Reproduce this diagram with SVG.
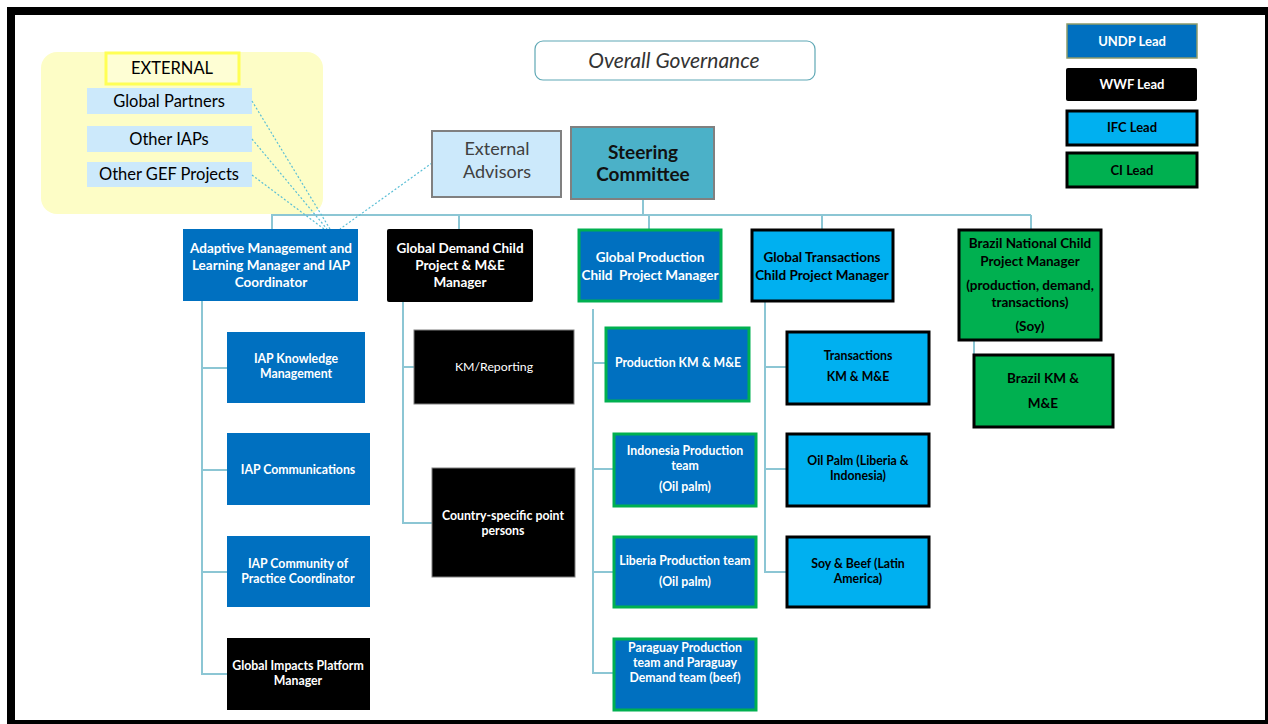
<svg xmlns="http://www.w3.org/2000/svg" width="1268" height="724" viewBox="0 0 1268 724">
<style>
text{font-family:Lato,"Liberation Sans",sans-serif;text-anchor:middle}
.w{fill:#ffffff;font-weight:bold;font-size:12.3px}
.k{fill:#000000;font-weight:bold;font-size:12.3px}
.hw{fill:#ffffff;font-weight:bold;font-size:13.5px}
.hk{fill:#000000;font-weight:bold;font-size:13.5px}
.undp{fill:#0070C0}
.wwf{fill:#000000;stroke:#7f7f7f;stroke-width:1}
.ifc{fill:#00B0F0;stroke:#000000;stroke-width:3}
.ci{fill:#00B050;stroke:#000000;stroke-width:3}
.prod{fill:#0070C0;stroke:#00B050;stroke-width:3}
.ext{fill:#CCE9FB}
.et{fill:#000000;font-size:16.5px}
.lg{font-weight:bold;font-size:13px}
.conn line,.conn polyline{stroke:#8CC6D4;stroke-width:2;fill:none}
.conn .dot{stroke:#5BBFD6;stroke-width:1.2;stroke-dasharray:2 2}
</style>
<rect x="7" y="7" width="1261" height="717" fill="#000000"/>
<rect x="15" y="15" width="1250" height="705" fill="#ffffff"/>

<g id="external-group">
<rect x="41" y="52" width="282" height="162" rx="16" fill="#FDFDC6"/>
<rect x="106" y="53" width="133" height="31" fill="#FEFED4" stroke="#FFFF55" stroke-width="3"/>
<text x="172" y="74" class="et">EXTERNAL</text>
</g>
<g id="global-partners"><rect x="87" y="88" width="165" height="26" class="ext"/><text x="169" y="106.5" class="et">Global Partners</text></g>
<g id="other-iaps"><rect x="87" y="126" width="165" height="26" class="ext"/><text x="169" y="144.5" class="et">Other IAPs</text></g>
<g id="other-gef"><rect x="87" y="162" width="165" height="25" class="ext"/><text x="169" y="180" class="et">Other GEF Projects</text></g>

<g id="overall-governance"><rect x="535" y="41" width="280" height="39" rx="8" fill="#ffffff" stroke="#5FA8B5" stroke-width="1.2"/><text x="674" y="68" font-size="21" font-style="italic" fill="#333333">Overall Governance</text></g>

<g id="legend">
<g id="legend-undp"><rect x="1067" y="24" width="130" height="34" fill="#0070C0" stroke="#8C9A6A" stroke-width="1.5"/><text x="1132" y="45.5" class="lg" fill="#ffffff">UNDP Lead</text></g>
<g id="legend-wwf"><rect x="1066" y="68" width="131" height="33" rx="2" fill="#000000"/><text x="1132" y="89" class="lg" fill="#ffffff">WWF Lead</text></g>
<g id="legend-ifc"><rect x="1067" y="111" width="130" height="34" class="ifc"/><text x="1132" y="132" class="lg" fill="#000000">IFC Lead</text></g>
<g id="legend-ci"><rect x="1067" y="153" width="130" height="34" class="ci"/><text x="1132" y="174.5" class="lg" fill="#000000">CI Lead</text></g>
</g>

<g class="conn" id="connectors">
<line x1="643" y1="199" x2="643" y2="215"/>
<line x1="271" y1="215" x2="1031" y2="215"/>
<line x1="272" y1="215" x2="272" y2="229"/>
<line x1="459" y1="215" x2="459" y2="229"/>
<line x1="649" y1="215" x2="649" y2="229"/>
<line x1="822" y1="215" x2="822" y2="229"/>
<line x1="1031" y1="215" x2="1031" y2="229"/>
<polyline points="202,301 202,674 227,674"/>
<line x1="202" y1="368" x2="227" y2="368"/>
<line x1="202" y1="470" x2="227" y2="470"/>
<line x1="202" y1="572" x2="227" y2="572"/>
<polyline points="403,302 403,523 432,523"/>
<line x1="403" y1="367" x2="414" y2="367"/>
<polyline points="593,309 593,673 613,673"/>
<line x1="593" y1="363" x2="605" y2="363"/>
<line x1="593" y1="469" x2="613" y2="469"/>
<line x1="593" y1="572" x2="613" y2="572"/>
<polyline points="765,301 765,572 786,572"/>
<line x1="765" y1="367" x2="786" y2="367"/>
<line x1="765" y1="469" x2="786" y2="469"/>
<line x1="974" y1="340" x2="974" y2="354"/>
<line class="dot" x1="252" y1="101" x2="330" y2="229"/>
<line class="dot" x1="252" y1="139" x2="327" y2="229"/>
<line class="dot" x1="252" y1="175" x2="324" y2="229"/>
<line class="dot" x1="432" y1="163" x2="340" y2="229"/>
</g>

<g id="external-advisors"><rect x="432" y="131" width="129" height="66" fill="#CCE9FB" stroke="#808080" stroke-width="2"/><text x="497" y="155" font-size="18" fill="#404040">External</text><text x="497" y="178" font-size="18" fill="#404040">Advisors</text></g>
<g id="steering-committee"><rect x="571" y="127" width="143" height="72" fill="#4BB1C8" stroke="#808080" stroke-width="2"/><text x="643" y="158.5" font-size="19" font-weight="bold" fill="#111111">Steering</text><text x="643" y="180.5" font-size="19" font-weight="bold" fill="#111111">Committee</text></g>

<g id="adaptive-manager"><rect x="183" y="229" width="175" height="72" class="undp"/><text x="271" y="253" class="hw">Adaptive Management and</text><text x="271" y="270" class="hw">Learning Manager and IAP</text><text x="271" y="287" class="hw">Coordinator</text></g>
<g id="global-demand"><rect x="387" y="229" width="146" height="73" rx="2" fill="#000000"/><text x="460" y="253" class="hw">Global Demand Child</text><text x="460" y="270" class="hw">Project &amp; M&amp;E</text><text x="460" y="287" class="hw">Manager</text></g>
<g id="global-production"><rect x="579" y="230" width="142" height="71" class="prod"/><text x="650" y="262" class="hw">Global Production</text><text x="650" y="280" class="hw" xml:space="preserve">Child  Project Manager</text></g>
<g id="global-transactions"><rect x="752" y="230" width="141" height="71" class="ifc"/><text x="822" y="262" class="hk">Global Transactions</text><text x="822" y="280" class="hk">Child Project Manager</text></g>
<g id="brazil-national"><rect x="959" y="230" width="142" height="110" class="ci"/><text x="1030" y="247.5" class="hk">Brazil National Child</text><text x="1030" y="266" class="hk">Project Manager</text><text x="1030" y="289.5" class="hk">(production, demand,</text><text x="1030" y="307" class="hk">transactions)</text><text x="1030" y="331" class="hk">(Soy)</text></g>

<g id="iap-knowledge"><rect x="227" y="332" width="138" height="71" class="undp"/><text x="296" y="363" class="w">IAP Knowledge</text><text x="296" y="378" class="w">Management</text></g>
<g id="iap-communications"><rect x="227" y="433" width="143" height="72" class="undp"/><text x="298" y="474" class="w">IAP Communications</text></g>
<g id="iap-community"><rect x="227" y="536" width="143" height="71" class="undp"/><text x="298" y="568" class="w">IAP Community of</text><text x="298" y="583" class="w">Practice Coordinator</text></g>
<g id="global-impacts"><rect x="227" y="638" width="143" height="72" fill="#000000"/><text x="298" y="670" class="w">Global Impacts Platform</text><text x="298" y="685" class="w">Manager</text></g>

<g id="km-reporting"><rect x="414" y="330" width="160" height="74" class="wwf"/><text x="494" y="371" font-size="12.3" fill="#ffffff">KM/Reporting</text></g>
<g id="country-specific"><rect x="432" y="468" width="143" height="109" class="wwf"/><text x="503" y="520" class="w">Country-specific point</text><text x="503" y="535" class="w">persons</text></g>

<g id="production-km"><rect x="606" y="328" width="143" height="73" class="prod"/><text x="678" y="367" class="w">Production KM &amp; M&amp;E</text></g>
<g id="indonesia-production"><rect x="614" y="434" width="142" height="72" class="prod"/><text x="685" y="455" class="w">Indonesia Production</text><text x="685" y="470" class="w">team</text><text x="685" y="491" class="w">(Oil palm)</text></g>
<g id="liberia-production"><rect x="614" y="537" width="142" height="70" class="prod"/><text x="685" y="565" class="w">Liberia Production team</text><text x="685" y="586" class="w">(Oil palm)</text></g>
<g id="paraguay-production"><rect x="614" y="639" width="142" height="71" class="prod"/><text x="685" y="652" class="w">Paraguay Production</text><text x="685" y="667" class="w">team and Paraguay</text><text x="685" y="682" class="w">Demand team (beef)</text></g>

<g id="transactions-km"><rect x="787" y="332" width="142" height="72" class="ifc"/><text x="858" y="360" class="k">Transactions</text><text x="858" y="381" class="k">KM &amp; M&amp;E</text></g>
<g id="oil-palm"><rect x="787" y="434" width="142" height="72" class="ifc"/><text x="858" y="465" class="k">Oil Palm (Liberia &amp;</text><text x="858" y="480" class="k">Indonesia)</text></g>
<g id="soy-beef"><rect x="787" y="537" width="142" height="70" class="ifc"/><text x="858" y="568" class="k">Soy &amp; Beef (Latin</text><text x="858" y="583" class="k">America)</text></g>

<g id="brazil-km"><rect x="974" y="355" width="139" height="72" class="ci"/><text x="1043" y="383" class="hk" font-size="14">Brazil KM &amp;</text><text x="1043" y="408" class="hk" font-size="14">M&amp;E</text></g>
</svg>
